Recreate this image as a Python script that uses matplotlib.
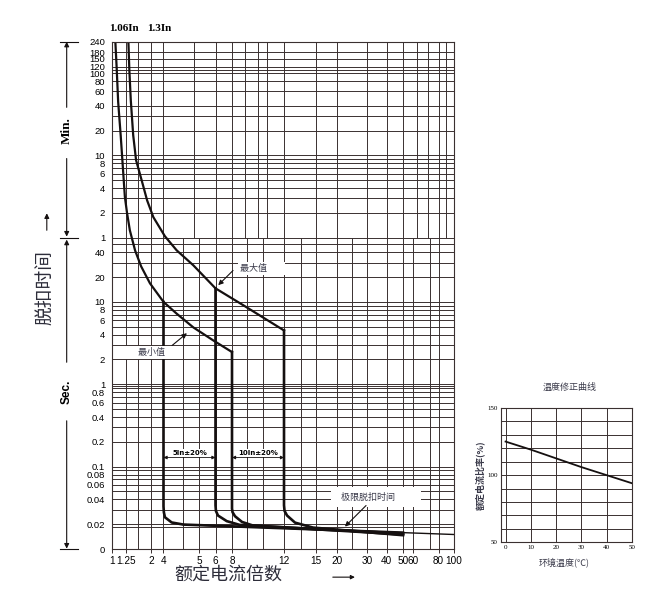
import numpy as np
import matplotlib.pyplot as plt
from matplotlib.ticker import NullLocator
from matplotlib.transforms import blended_transform_factory

plt.rcParams['font.family'] = ['Liberation Sans', 'Noto Sans CJK SC', 'DejaVu Sans']
CJK = ['Noto Sans CJK SC', 'DejaVu Sans']

# the sheet's x axis is hand drawn: multiple of In -> where the sheet puts it
scale_x = [1, 1.25, 1.5, 2, 4, 5, 6, 8, 10, 12, 15, 20, 30, 40, 50, 60, 80, 100]
scale_pos = [112, 126, 138, 151, 163.5, 199, 215.5, 232, 258, 284, 315.5,
             337, 367, 386.5, 403, 413, 438.5, 454]

x_ticks = [1, 1.25, 2, 4, 5, 6, 8, 12, 15, 20, 30, 40, 50, 60, 80, 100]
min_labels = [240, 180, 150, 120, 100, 80, 60, 40, 20, 10, 8, 6, 4, 2, 1]
sec_labels = [40, 20, 10, 8, 6, 4, 2, 1, 0.8, 0.6, 0.4, 0.2, 0.1, 0.08, 0.06, 0.04, 0.02]

# lower limit curve (starts at 1.06In), t in seconds
low_x = [1.06, 1.084, 1.11, 1.155, 1.2, 1.23, 1.27, 1.33, 1.44, 1.62, 1.96, 4.0, 4.37, 4.84, 5.87, 8.0]
low_t = [14400, 6800, 2680, 1056, 375, 188, 122, 74, 42, 27, 16.8, 10, 7.2, 4.9, 3.4, 2.46]
# upper limit curve (starts at 1.3In)
high_x = [1.3, 1.32, 1.35, 1.4, 1.46, 1.64, 1.85, 2.37, 4.04, 4.37, 4.84, 6.0, 8.87, 12.0]
high_t = [14400, 6500, 2800, 1056, 525, 300, 171, 107, 62.6, 42.3, 27.8, 14.6, 9.1, 4.5]

# magnetic release: drops at 4/6 (5In+-20%) and 8/12 (10In+-20%)
drop_x = [4, 6, 8, 12]
drop_top = [10, 14.6, 2.46, 4.5]
knee_x = [[4, 4.01, 4.04, 4.23, 4.56],
          [6, 6.05, 6.3, 7.36, 8.6],
          [8, 8.04, 8.23, 8.77, 9.6],
          [12, 12.05, 12.29, 13.05, 14.76]]
knee_t = [[0.033, 0.028, 0.0243, 0.021, 0.0198],
          [0.034, 0.029, 0.0255, 0.0218, 0.0196],
          [0.031, 0.028, 0.025, 0.0213, 0.0193],
          [0.034, 0.029, 0.0255, 0.0209, 0.0182]]
tail_x = 50
tail_t = [0.0158, 0.0154, 0.0150, 0.0147]
limit_x = [4.56, 100]
limit_t = [0.0198, 0.0150]

# temperature correction inset
temp = [0, 10, 20, 30, 40, 50]
ratio = [125, 119, 112.5, 106, 100, 94]

# grid of the sheet (two printed blocks: minutes and seconds)
grid_x_min = [1, 1.25, 1.5, 2, 4, 4.85, 6, 8, 9, 10, 10.7, 12, 15, 20, 30, 40, 50, 63, 72, 80, 90, 100]
grid_x_sec = [1, 1.25, 1.5, 2, 4, 4.55, 5, 6, 8, 9.15, 10.4, 12, 13.6, 15, 20, 25, 30, 40, 50, 60, 73, 80, 100]
grid_t_min = [1, 2, 3, 4, 5, 6, 7, 8, 9, 10, 20, 30, 40, 60, 80, 100, 110, 120, 150, 180, 240]
grid_t_sec = [d * m for d in (0.01, 0.1, 1, 10) for m in range(1, 10)]
grid_t_sec = [v for v in grid_t_sec if 0.015 < v < 60] + [0.0185, 0.95]

GC = '#3a3030'
INK = '#151010'


def fwd(v):
    return np.interp(v, scale_x, scale_pos)


def inv(p):
    return np.interp(p, scale_pos, scale_x)


fig = plt.figure(figsize=(6.5, 5.95), dpi=100)
ax = fig.add_axes([0.1723, 0.0773, 0.5262, 0.8526])
ax.set_xscale('function', functions=(fwd, inv))
ax.set_yscale('log')
ax.set_xlim(1, 100)
ax.set_ylim(0.01, 14400)

ax.vlines(grid_x_min, 60, 14400, color=GC, lw=0.7)
ax.vlines(grid_x_sec, 0.01, 60, color=GC, lw=0.7)
ax.hlines([m * 60 for m in grid_t_min], 1, 100, color=GC, lw=0.7)
ax.hlines(grid_t_sec, 1, 100, color=GC, lw=0.7)
for s in ax.spines.values():
    s.set_color(GC)
    s.set_linewidth(0.8)

ax.set_xticks(x_ticks)
ax.set_xticklabels([f'{v:g}' for v in x_ticks])
ax.xaxis.set_minor_locator(NullLocator())
y_pos = [m * 60 for m in min_labels] + sec_labels + [0.01]
y_txt = [f'{v:g}' for v in min_labels] + [f'{v:g}' for v in sec_labels] + ['0']
ax.set_yticks(y_pos)
ax.set_yticklabels(y_txt)
ax.yaxis.set_minor_locator(NullLocator())
ax.tick_params(axis='x', length=3, width=0.7, color=GC, pad=2, labelsize=7.2)
ax.tick_params(axis='y', length=0, pad=5, labelsize=6.8)

# trip curves
ax.plot(low_x, low_t, color=INK, lw=1.6, solid_joinstyle='round')
ax.plot(high_x, high_t, color=INK, lw=1.6, solid_joinstyle='round')
for x0, top, kx, kt, et in zip(drop_x, drop_top, knee_x, knee_t, tail_t):
    ax.plot([x0] + kx + [tail_x], [top] + kt + [et], color=INK, lw=1.9,
            solid_joinstyle='round')
ax.plot(limit_x, limit_t, color=INK, lw=1.0)

# labels inside the chart
box = dict(fc='white', ec='none', pad=1.5)
ax.text(8.6, 25.2, '最大值        ', fontsize=6.5, family=CJK, color='#3a3a4a',
        va='center', ha='left', bbox=box)
ax.annotate('', xy=(6.09, 15.1), xytext=(8.23, 25.4),
            arrowprops=dict(arrowstyle='-|>', color=INK, lw=0.8, mutation_scale=7))
ax.text(1.79, 2.44, '        最小值  ', fontsize=6.5, family=CJK, color='#3a3a4a',
        va='center', ha='center', bbox=box)
ax.annotate('', xy=(4.72, 4.38), xytext=(4.18, 2.81),
            arrowprops=dict(arrowstyle='-|>', color=INK, lw=0.8, mutation_scale=7))
ax.text(34.6, 0.0426, '  极限脱扣时间          ', fontsize=6.5, family=CJK, color='#3a3a4a',
        va='center', ha='center', bbox=dict(fc='white', ec='none', pad=4))
ax.annotate('', xy=(22, 0.0177), xytext=(30.5, 0.0356),
            arrowprops=dict(arrowstyle='-|>', color=INK, lw=0.8, mutation_scale=7))

for a, b, lab in [(4, 6, '5In±20%'), (8, 12, '10In±20%')]:
    ax.annotate('', xy=(a, 0.129), xytext=(b, 0.129),
                arrowprops=dict(arrowstyle='<|-|>', color=INK, lw=0.6,
                                mutation_scale=5, shrinkA=0, shrinkB=0))
    mid = inv((fwd(a) + fwd(b)) / 2)
    ax.text(mid, 0.147, lab, fontsize=5, fontweight='bold', ha='center', va='center',
            family=['DejaVu Sans'], bbox=dict(fc='white', ec='none', pad=0.8))

ax.text(0.035, 1.027, '1.06In', transform=ax.transAxes, fontsize=8, fontweight='bold',
        family=['Liberation Serif'], ha='center', va='center')
ax.text(0.137, 1.027, '1.3In', transform=ax.transAxes, fontsize=8, fontweight='bold',
        family=['Liberation Serif'], ha='center', va='center')

# left side: Min. / Sec. brackets and axis title
tr = blended_transform_factory(fig.transFigure, ax.transData)
xb = 0.1026
arrow = dict(arrowstyle='-|>', color=INK, lw=0.8, mutation_scale=7, shrinkA=0, shrinkB=0)
for t in (14400, 60, 0.01):
    ax.plot([0.0923, 0.12], [t, t], transform=tr, color=INK, lw=0.8, clip_on=False)
ax.annotate('', xy=(xb, 14400), xytext=(xb, 2300), xycoords=tr, arrowprops=arrow,
            annotation_clip=False)
ax.annotate('', xy=(xb, 62), xytext=(xb, 550), xycoords=tr, arrowprops=arrow,
            annotation_clip=False)
ax.text(xb, 1213, 'Min.', transform=tr, rotation=90, fontsize=9.5, fontweight='bold',
        family=['Liberation Serif'], ha='center', va='center')
ax.annotate('', xy=(xb, 57), xytext=(xb, 1.85), xycoords=tr, arrowprops=arrow,
            annotation_clip=False)
ax.annotate('', xy=(xb, 0.0101), xytext=(xb, 0.36), xycoords=tr, arrowprops=arrow,
            annotation_clip=False)
ax.text(xb, 0.8, 'Sec.', transform=tr, rotation=90, fontsize=8.5, fontweight='bold',
        ha='center', va='center')
ax.text(0.069, 15, '脱扣时间', transform=tr, rotation=90, fontsize=13.5, family=CJK,
        color='#2d2d3a', ha='center', va='center')
ax.annotate('', xy=(0.072, 119), xytext=(0.072, 74), xycoords=tr, arrowprops=arrow,
            annotation_clip=False)

fig.text(0.351, 0.034, '额定电流倍数', fontsize=13, family=CJK, color='#2d2d3a',
         ha='center', va='center')
ax.annotate('', xy=(0.546, 0.030), xytext=(0.512, 0.030), xycoords='figure fraction',
            arrowprops=dict(arrowstyle='-|>', color=INK, lw=0.8, mutation_scale=6,
                            shrinkA=0, shrinkB=0), annotation_clip=False)

# inset: temperature correction
ax2 = fig.add_axes([0.770, 0.0886, 0.202, 0.2257])
ax2.plot(temp, ratio, color=INK, lw=1.3)
ax2.set_xlim(-2, 50)
ax2.set_ylim(50, 150)
ax2.set_xticks(range(0, 51, 10))
ax2.set_yticks(range(50, 151, 10))
ax2.set_yticklabels([str(v) if v % 50 == 0 else '' for v in range(50, 151, 10)])
ax2.grid(True, color=GC, lw=0.7)
ax2.tick_params(length=0, labelsize=5, pad=2)
for lab in ax2.get_xticklabels() + ax2.get_yticklabels():
    lab.set_family('Liberation Serif')
for s in ax2.spines.values():
    s.set_color(GC)
    s.set_linewidth(0.8)
ax2.text(0.53, 1.156, '温度修正曲线', transform=ax2.transAxes, fontsize=6.5, family=CJK,
         color='#3a3a4a', ha='center', va='center')
ax2.text(0.482, -0.147, '环境温度(℃)', transform=ax2.transAxes, fontsize=6.5, family=CJK,
         color='#3a3a4a', ha='center', va='center')
ax2.text(-0.158, 0.5, '额定电流比率(%)', transform=ax2.transAxes, fontsize=6.5, family=CJK,
         color='#3a3a4a', rotation=90, ha='center', va='center', fontweight='bold')

fig.savefig('out.png', dpi=100)
